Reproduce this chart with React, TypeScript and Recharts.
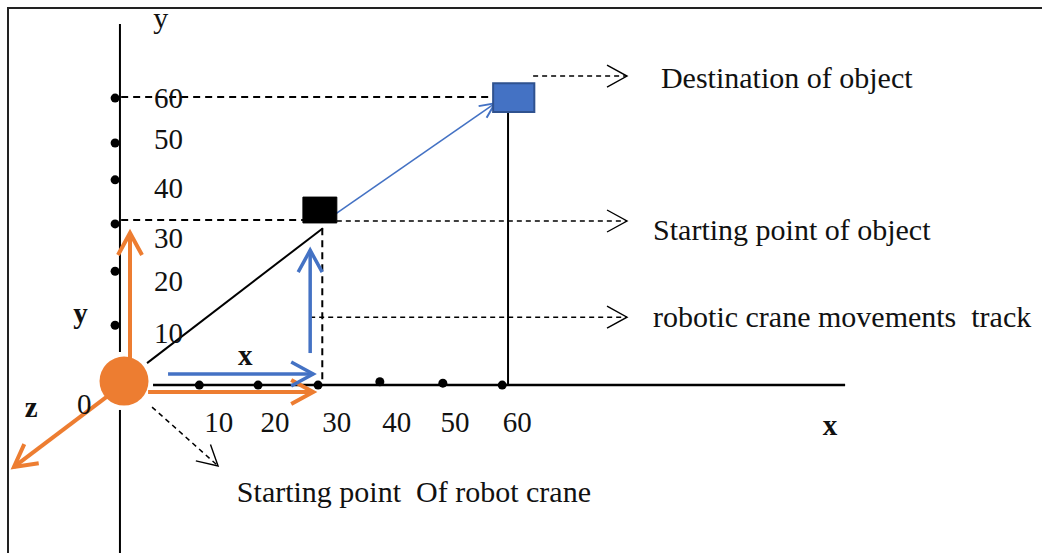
import {
  ComposedChart,
  XAxis,
  YAxis,
  Scatter,
  ReferenceLine,
  ReferenceArea,
  ReferenceDot,
} from "recharts";

// diagram units: x axis is y = 0, the "60" marks are x = 60 / y = 60
const X_DOMAIN = [-22.9, 149.1];
const Y_DOMAIN = [-35.1, 80.5];

const xTickLabels = ["10", "20", "30", "40", "50", "60"];
const xDotValues = [10, 19.7, 29.6, 39.8, 50.2, 60];
const xDotLevels = [0, 0, 0, 0.7, 0.4, 0];
const xLabelValues = [13.2, 22.5, 32.7, 42.6, 52.2, 62.5];
const xLabelLevel = -9.8;

const yTickLabels = ["60", "50", "40", "30", "20", "10"];
const yDotValues = [60, 50.6, 42.9, 33.7, 23.8, 12.5];
const yDotColumn = -3.9;
const yLabelValues = [57.9, 49.3, 39.1, 28.6, 19.7, 8.8];
const yLabelColumn = 2.5;

const origin = { x: -2.43, y: 0.84 };
const startBox = { x1: 27.1, x2: 32.7, y1: 33.9, y2: 39.3 };
const destBox = { x1: 58.5, x2: 65.3, y1: 57.1, y2: 63.1 };

type Pt = { x: number; y: number };
type Seg = { kind: string; from: Pt; to: Pt };

const segments: Seg[] = [
  // axes
  { kind: "axis", from: { x: -3.1, y: 75.5 }, to: { x: -3.1, y: 6.9 } },
  { kind: "axis", from: { x: -3.1, y: -5.2 }, to: { x: -3.1, y: -35.1 } },
  { kind: "axisX", from: { x: 2.36, y: 0 }, to: { x: 116.6, y: 0 } },
  // track
  { kind: "solid", from: { x: 1.37, y: 4.6 }, to: { x: 30.4, y: 32.8 } },
  { kind: "solid", from: { x: 60.96, y: 57.1 }, to: { x: 60.96, y: 0 } },
  { kind: "guide", from: { x: 30.3, y: 32.8 }, to: { x: 30.3, y: 0 } },
  { kind: "guide", from: { x: -2.9, y: 60.2 }, to: { x: 58.5, y: 60.2 } },
  { kind: "guide", from: { x: -2.9, y: 34.5 }, to: { x: 27.1, y: 34.5 } },
];

const arrows: Seg[] = [
  { kind: "dash", from: { x: 65.1, y: 64.6 }, to: { x: 80.6, y: 64.6 } },
  { kind: "dash", from: { x: 32.7, y: 34.3 }, to: { x: 80.6, y: 34.3 } },
  { kind: "dash", from: { x: 28.3, y: 14.2 }, to: { x: 80.6, y: 14.2 } },
  { kind: "dash", from: { x: 2.2, y: -4.6 }, to: { x: 13.1, y: -16.9 } },
  { kind: "orange", from: { x: -1.44, y: 5.6 }, to: { x: -1.44, y: 31.8 } },
  { kind: "orange", from: { x: 1.54, y: -1.46 }, to: { x: 28.8, y: -1.46 } },
  { kind: "orange", from: { x: -4.7, y: -1.9 }, to: { x: -20.6, y: -17.1 } },
  { kind: "blue", from: { x: 4.84, y: 2.3 }, to: { x: 28.8, y: 2.3 } },
  { kind: "blue", from: { x: 28.3, y: 6.7 }, to: { x: 28.3, y: 28.2 } },
  { kind: "blueThin", from: { x: 31.25, y: 34.7 }, to: { x: 58.8, y: 58.9 } },
];

const notes = [
  { kind: "caption", text: "Destination of object", x: 86.2, y: 62.1 },
  { kind: "caption", text: "Starting point of object", x: 84.9, y: 30.3 },
  { kind: "caption", text: "robotic crane movements\u00a0 track", x: 84.9, y: 12.1 },
  { kind: "caption", text: "Starting point\u00a0 Of robot crane", x: 16.2, y: -24.5 },
  { kind: "name", text: "y", x: 2.4, y: 74.6 },
  { kind: "bold", text: "y", x: -10.8, y: 13.0 },
  { kind: "bold", text: "x", x: 16.4, y: 4.2 },
  { kind: "bold", text: "z", x: -18.8, y: -6.7 },
  { kind: "tick", text: "0", x: -10.2, y: -6.1 },
  { kind: "bold", text: "x", x: 112.9, y: -10.5 },
];

const ORANGE = "#ED7D31";
const BLUE = "#4472C4";
const FONT = "'Liberation Serif', 'Times New Roman', serif";

const lineStyle: Record<string, any> = {
  axis: { stroke: "#000", strokeWidth: 2 },
  axisX: { stroke: "#000", strokeWidth: 2.5 },
  solid: { stroke: "#000", strokeWidth: 2 },
  guide: { stroke: "#000", strokeWidth: 2, strokeDasharray: "7 5" },
  dash: { stroke: "#000", strokeWidth: 1.5, strokeDasharray: "5 4", markerEnd: "url(#mk-dash)" },
  orange: { stroke: ORANGE, strokeWidth: 4, markerEnd: "url(#mk-orange)" },
  blue: { stroke: BLUE, strokeWidth: 3.5, markerEnd: "url(#mk-blue)" },
  blueThin: { stroke: BLUE, strokeWidth: 1.6, markerEnd: "url(#mk-blue-thin)" },
};

const textStyle: Record<string, any> = {
  caption: { fontSize: 30, textAnchor: "start" },
  name: { fontSize: 30, textAnchor: "start" },
  bold: { fontSize: 29, fontWeight: "bold", textAnchor: "start" },
  tick: { fontSize: 29, textAnchor: "start" },
  xTick: { fontSize: 29, textAnchor: "middle" },
};

const tickNotes = [
  ...xTickLabels.map((t, i) => ({ kind: "xTick", text: t, x: xLabelValues[i], y: xLabelLevel })),
  ...yTickLabels.map((t, i) => ({ kind: "tick", text: t, x: yLabelColumn, y: yLabelValues[i] })),
];

const dots = [
  ...xDotValues.map((v, i) => ({ x: v, y: xDotLevels[i] })),
  ...yDotValues.map((v) => ({ x: yDotColumn, y: v })),
];

const TextMark = (props: any) => {
  const { cx, cy, payload } = props;
  return (
    <text x={cx} y={cy} fill="#111" fontFamily={FONT} {...textStyle[payload.kind]}>
      {payload.text}
    </text>
  );
};

const DotMark = (props: any) => <circle cx={props.cx} cy={props.cy} r={4.5} fill="#000" />;

const Markers = () => (
  <svg width={0} height={0} style={{ position: "absolute" }}>
    <defs>
      <marker id="mk-dash" markerUnits="userSpaceOnUse" viewBox="0 0 24 26" refX={21} refY={12} markerWidth={24} markerHeight={26} orient="auto">
        <path d="M1,1 L21,12 L1,23" fill="none" stroke="#000" strokeWidth={1.4} />
      </marker>
      <marker id="mk-orange" markerUnits="userSpaceOnUse" viewBox="0 0 30 32" refX={25} refY={15} markerWidth={30} markerHeight={32} orient="auto">
        <path d="M3,3 L25,15 L3,27" fill="none" stroke={ORANGE} strokeWidth={4} />
      </marker>
      <marker id="mk-blue" markerUnits="userSpaceOnUse" viewBox="0 0 30 32" refX={25} refY={15} markerWidth={30} markerHeight={32} orient="auto">
        <path d="M3,3 L25,15 L3,27" fill="none" stroke={BLUE} strokeWidth={3.5} />
      </marker>
      <marker id="mk-blue-thin" markerUnits="userSpaceOnUse" viewBox="0 0 20 20" refX={17} refY={10} markerWidth={20} markerHeight={20} orient="auto">
        <path d="M2,3 L17,10 L2,17" fill="none" stroke={BLUE} strokeWidth={2} />
      </marker>
    </defs>
  </svg>
);

export default function App() {
  return (
    <div style={{ position: "absolute", left: 0, top: 0, width: 1042, height: 553, background: "#fff" }}>
      <Markers />
      <div
        style={{
          position: "absolute",
          left: 7,
          top: 7,
          width: 1042,
          height: 553,
          borderTop: "2px solid #222",
          borderLeft: "2px solid #222",
        }}
      />
      <div style={{ position: "absolute", left: 0, top: 0 }}>
        <ComposedChart width={1042} height={553} margin={{ top: 0, right: 0, bottom: 0, left: 0 }}>
          <XAxis type="number" dataKey="x" domain={X_DOMAIN} allowDataOverflow hide />
          <YAxis type="number" dataKey="y" domain={Y_DOMAIN} allowDataOverflow hide />
          {segments.map((s, i) => (
            <ReferenceLine key={"s" + i} segment={[s.from, s.to]} {...lineStyle[s.kind]} />
          ))}
          {arrows.map((s, i) => (
            <ReferenceLine key={"a" + i} segment={[s.from, s.to]} {...lineStyle[s.kind]} />
          ))}
          <ReferenceArea {...startBox} fill="#000" fillOpacity={1} stroke="#000" zIndex={700} />
          <ReferenceArea {...destBox} fill={BLUE} fillOpacity={1} stroke="#2F528F" strokeWidth={2} zIndex={700} />
          <ReferenceDot x={origin.x} y={origin.y} r={24.5} fill={ORANGE} stroke="none" />
          <Scatter data={dots} shape={DotMark} isAnimationActive={false} />
          <Scatter data={[...tickNotes, ...notes]} shape={TextMark} isAnimationActive={false} />
        </ComposedChart>
      </div>
    </div>
  );
}
